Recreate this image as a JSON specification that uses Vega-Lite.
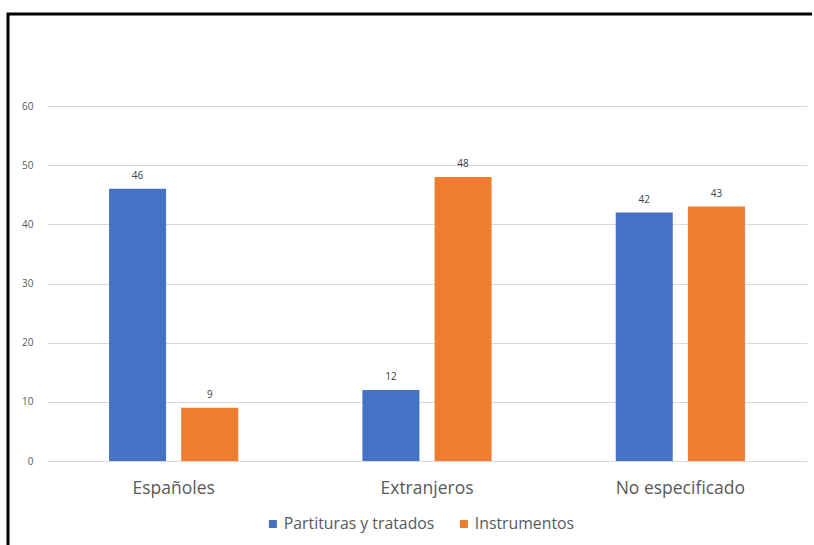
{
  "$schema": "https://vega.github.io/schema/vega-lite/v6.json",
  "autosize": {"type": "none"},
  "padding": {"left": 8, "top": 14, "right": 2, "bottom": 0},
  "width": 804,
  "height": 531,
  "background": "white",
  "config": {
    "font": "Open Sans",
    "view": {"stroke": "black", "strokeWidth": 3, "strokeDash": [804, 1335, 531, 1]}
  },
  "data": {
    "values": [
      {"categoria": "Españoles", "serie": "Partituras y tratados", "valor": 46},
      {"categoria": "Españoles", "serie": "Instrumentos", "valor": 9},
      {"categoria": "Extranjeros", "serie": "Partituras y tratados", "valor": 12},
      {"categoria": "Extranjeros", "serie": "Instrumentos", "valor": 48},
      {"categoria": "No especificado", "serie": "Partituras y tratados", "valor": 42},
      {"categoria": "No especificado", "serie": "Instrumentos", "valor": 43}
    ]
  },
  "encoding": {
    "x": {
      "field": "categoria",
      "type": "nominal",
      "sort": ["Españoles", "Extranjeros", "No especificado"],
      "scale": {"range": [39, 799], "paddingInner": 0, "paddingOuter": 0},
      "axis": {
        "title": null,
        "orient": "bottom",
        "offset": -84,
        "domain": false,
        "ticks": false,
        "labelAngle": 0,
        "labelPadding": 18,
        "labelFontSize": 17.5,
        "labelColor": "#595959"
      }
    },
    "xOffset": {
      "field": "serie",
      "type": "nominal",
      "sort": ["Partituras y tratados", "Instrumentos"],
      "scale": {"paddingInner": 0.21, "paddingOuter": 0.86}
    },
    "y": {
      "field": "valor",
      "type": "quantitative",
      "scale": {"domain": [0, 60], "range": [447, 92]},
      "axis": {
        "title": null,
        "values": [0, 10, 20, 30, 40, 50, 60],
        "offset": -39,
        "domain": false,
        "ticks": false,
        "labelPadding": 14,
        "labelFontSize": 10,
        "labelColor": "#595959",
        "grid": true,
        "gridColor": "#d9d9d9",
        "gridWidth": 1
      }
    }
  },
  "layer": [
    {
      "mark": {"type": "bar"},
      "encoding": {
        "color": {
          "field": "serie",
          "type": "nominal",
          "sort": ["Partituras y tratados", "Instrumentos"],
          "scale": {"range": ["#4472C4", "#ED7D31"]},
          "legend": {
            "title": null,
            "orient": "none",
            "legendX": 257,
            "legendY": 502,
            "direction": "horizontal",
            "symbolType": "square",
            "symbolSize": 64,
            "symbolStrokeWidth": 0,
            "labelFontSize": 15.8,
            "labelColor": "#595959",
            "labelOffset": 3,
            "columnPadding": 21,
            "padding": 0
          }
        }
      }
    },
    {
      "mark": {"type": "text", "baseline": "bottom", "dy": -8, "fontSize": 10, "color": "#404040"},
      "encoding": {"text": {"field": "valor", "type": "quantitative"}}
    }
  ]
}
